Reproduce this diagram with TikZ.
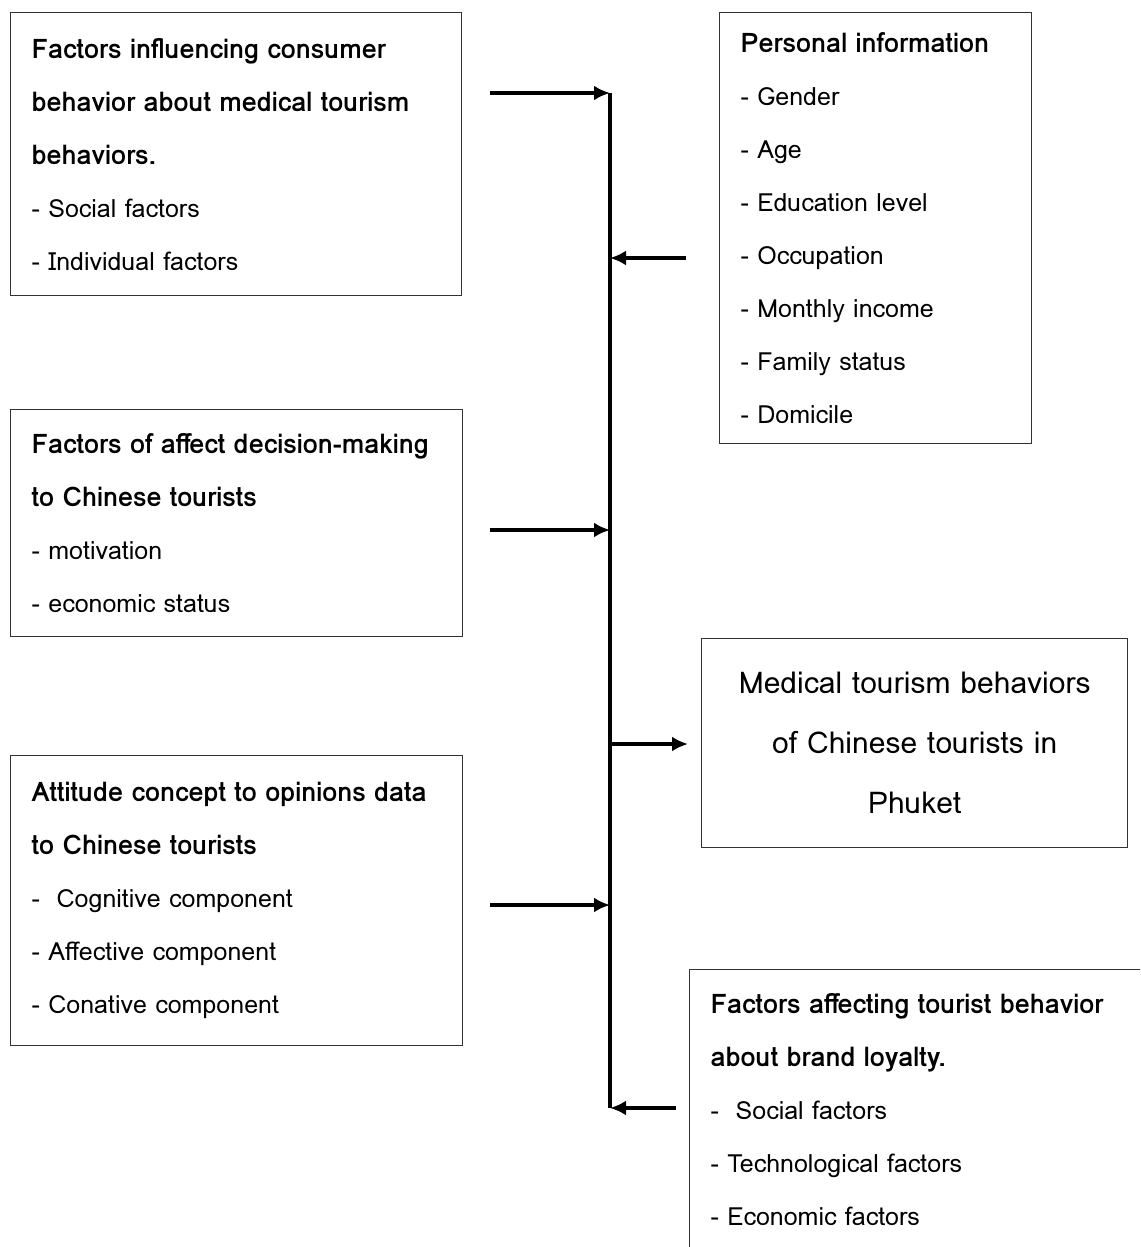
\documentclass[tikz,border=0pt]{standalone}
\usepackage{fontspec}
\setmainfont{Loma}
\usepackage{tikz}
\usetikzlibrary{arrows.meta, positioning}
\definecolor{edge}{HTML}{333333}
\newcommand{\head}[1]{{\fontsize{13.5}{26.5}\selectfont\bfseries #1}}

\begin{document}
\begin{tikzpicture}[x=0.5pt, y=-0.5pt,
    every node/.style={font=\fontsize{12.5}{26.5}\selectfont},
    factor/.style={draw=edge, line width=0.7pt, anchor=north west, align=left, inner xsep=10.5pt, inner ysep=0pt},
    link/.style={-{Latex[length=8pt, width=7.5pt]}, line width=1.6pt}]
    \clip (0,0) rectangle (1140,1247);
    \node[factor, minimum width=225.5pt, minimum height=141.5pt, text width=204.5pt] (consumer) at (10,12)
      {\head{Factors influencing consumer}\\ \head{behavior about medical tourism}\\ \head{behaviors.}\\ - Social factors\\ - Individual factors};
    \node[factor, minimum width=156pt, minimum height=215.5pt, text width=135pt] (personal) at (719,12)
      {\head{Personal information}\\ - Gender\\ - Age\\ - Education level\\ - Occupation\\ - Monthly income\\ - Family status\\ - Domicile};
    \node[factor, minimum width=226pt, minimum height=113.5pt, text width=205pt] (decision) at (10,409)
      {\head{Factors of affect decision-making}\\ \head{to Chinese tourists}\\ - motivation\\ - economic status};
    \node[factor, minimum width=213pt, minimum height=104.5pt, text width=192pt, align=center,
      font=\fontsize{15}{30}\selectfont] (medical) at (701,638)
      {Medical tourism behaviors\\ of Chinese tourists in\\ Phuket};
    \node[factor, minimum width=226pt, minimum height=145pt, text width=205pt] (attitude) at (10,755)
      {\head{Attitude concept to opinions data}\\ \head{to Chinese tourists}\\ -~~Cognitive component\\ - Affective component\\ - Conative component};
    \node[factor, minimum width=240pt, minimum height=140pt, text width=219pt] (loyalty) at (689,969)
      {\head{Factors affecting tourist behavior}\\ \head{about brand loyalty.}\\ -~~Social factors\\ - Technological factors\\ - Economic factors};

    % spine and junctions
    \coordinate (top) at (610,93);
    \coordinate (bottom) at (610,1108);
    \coordinate (in1) at (490,93);
    \coordinate (in2) at (686,258);
    \coordinate (join2) at (610,258);
    \coordinate (in3) at (490,530);
    \coordinate (join3) at (610,530);
    \coordinate (join4) at (610,744);
    \coordinate (out4) at (688,744);
    \coordinate (in5) at (490,905);
    \coordinate (join5) at (610,905);
    \coordinate (in6) at (676,1108);

    \draw[line width=1.8pt] (top) -- (bottom);
    \draw[link] (in1) -- (top);
    \draw[link] (in2) -- (join2);
    \draw[link] (in3) -- (join3);
    \draw[link] (join4) -- (out4);
    \draw[link] (in5) -- (join5);
    \draw[link] (in6) -- (bottom);
\end{tikzpicture}
\end{document}
